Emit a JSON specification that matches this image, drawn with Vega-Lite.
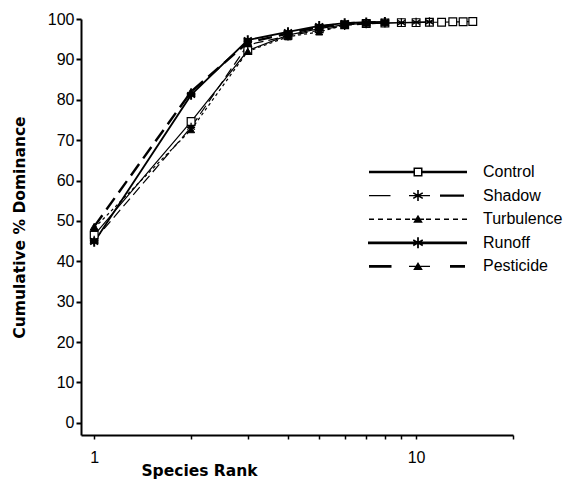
{
  "$schema": "https://vega.github.io/schema/vega-lite/v6.json",
  "padding": {"left": 12, "top": 11, "right": 0, "bottom": 0},
  "width": 432,
  "height": 416,
  "background": "white",
  "config": {
    "view": {"stroke": null},
    "font": "Liberation Sans",
    "axis": {
      "grid": false,
      "domainColor": "black",
      "domainWidth": 2,
      "tickColor": "black",
      "labelColor": "black",
      "labelFont": "Liberation Sans",
      "labelFontSize": 16,
      "titleColor": "black",
      "titleFont": "DejaVu Sans",
      "titleFontWeight": "bold",
      "titleFontSize": 15.5
    }
  },
  "data": {
    "values": [
      {"treatment": "Control", "rank": 1, "pct": 46.5},
      {"treatment": "Control", "rank": 2, "pct": 74.6},
      {"treatment": "Control", "rank": 3, "pct": 92.2},
      {"treatment": "Control", "rank": 4, "pct": 96.0},
      {"treatment": "Control", "rank": 5, "pct": 97.6},
      {"treatment": "Control", "rank": 6, "pct": 98.6},
      {"treatment": "Control", "rank": 7, "pct": 98.9},
      {"treatment": "Control", "rank": 8, "pct": 99.0},
      {"treatment": "Control", "rank": 9, "pct": 99.1},
      {"treatment": "Control", "rank": 10, "pct": 99.1},
      {"treatment": "Control", "rank": 11, "pct": 99.2},
      {"treatment": "Control", "rank": 12, "pct": 99.2},
      {"treatment": "Control", "rank": 13, "pct": 99.3},
      {"treatment": "Control", "rank": 14, "pct": 99.3},
      {"treatment": "Control", "rank": 15, "pct": 99.4},
      {"treatment": "Shadow", "rank": 1, "pct": 45.2},
      {"treatment": "Shadow", "rank": 2, "pct": 73.2},
      {"treatment": "Shadow", "rank": 3, "pct": 93.6},
      {"treatment": "Shadow", "rank": 4, "pct": 95.8},
      {"treatment": "Shadow", "rank": 5, "pct": 97.2},
      {"treatment": "Shadow", "rank": 6, "pct": 98.4},
      {"treatment": "Shadow", "rank": 7, "pct": 98.8},
      {"treatment": "Shadow", "rank": 8, "pct": 99.0},
      {"treatment": "Shadow", "rank": 9, "pct": 99.1},
      {"treatment": "Shadow", "rank": 10, "pct": 99.2},
      {"treatment": "Shadow", "rank": 11, "pct": 99.3},
      {"treatment": "Turbulence", "rank": 1, "pct": 48.2},
      {"treatment": "Turbulence", "rank": 2, "pct": 72.6},
      {"treatment": "Turbulence", "rank": 3, "pct": 92.0},
      {"treatment": "Turbulence", "rank": 4, "pct": 95.6},
      {"treatment": "Turbulence", "rank": 5, "pct": 96.8},
      {"treatment": "Turbulence", "rank": 6, "pct": 98.5},
      {"treatment": "Turbulence", "rank": 7, "pct": 99.0},
      {"treatment": "Turbulence", "rank": 8, "pct": 99.2},
      {"treatment": "Runoff", "rank": 1, "pct": 44.8},
      {"treatment": "Runoff", "rank": 2, "pct": 81.2},
      {"treatment": "Runoff", "rank": 3, "pct": 94.8},
      {"treatment": "Runoff", "rank": 4, "pct": 96.8},
      {"treatment": "Runoff", "rank": 5, "pct": 98.3},
      {"treatment": "Runoff", "rank": 6, "pct": 99.0},
      {"treatment": "Runoff", "rank": 7, "pct": 99.2},
      {"treatment": "Runoff", "rank": 8, "pct": 99.3},
      {"treatment": "Pesticide", "rank": 1, "pct": 48.6},
      {"treatment": "Pesticide", "rank": 2, "pct": 82.0},
      {"treatment": "Pesticide", "rank": 3, "pct": 94.2},
      {"treatment": "Pesticide", "rank": 4, "pct": 96.4},
      {"treatment": "Pesticide", "rank": 5, "pct": 98.0},
      {"treatment": "Pesticide", "rank": 6, "pct": 98.9},
      {"treatment": "Pesticide", "rank": 7, "pct": 99.1},
      {"treatment": "Pesticide", "rank": 8, "pct": 99.3}
    ]
  },
  "encoding": {
    "x": {
      "field": "rank",
      "type": "quantitative",
      "scale": {"type": "log", "domain": [0.91, 20], "nice": false},
      "axis": {
        "title": "Species Rank",
        "titleX": 118,
        "titleY": 40,
        "titleAlign": "center",
        "titleBaseline": "alphabetic",
        "values": [1, 2, 3, 4, 5, 6, 7, 8, 9, 10, 20],
        "labelExpr": "(datum.value == 1 || datum.value == 10) ? format(datum.value, 'd') : ''",
        "labelOverlap": false,
        "labelBound": false,
        "labelFlush": false,
        "tickSize": 4,
        "tickWidth": 1.5,
        "labelPadding": 10,
        "encode": {"ticks": {"y": {"value": -4}}}
      }
    },
    "y": {
      "field": "pct",
      "type": "quantitative",
      "scale": {"domain": [-3, 100], "nice": false, "zero": false},
      "axis": {
        "title": "Cumulative % Dominance",
        "titleAngle": -90,
        "titlePadding": 20,
        "values": [0, 10, 20, 30, 40, 50, 60, 70, 80, 90, 100],
        "labelOverlap": false,
        "labelBound": false,
        "labelFlush": false,
        "tickSize": 5,
        "tickWidth": 2,
        "encode": {"ticks": {"x": {"value": 8}}}
      }
    }
  },
  "layer": [
    {
      "transform": [{"filter": "datum.treatment === 'Control'"}],
      "mark": {"type": "line", "color": "black", "strokeWidth": 1.2}
    },
    {
      "transform": [{"filter": "datum.treatment === 'Shadow'"}],
      "mark": {"type": "line", "color": "black", "strokeWidth": 1.2, "strokeDash": [10, 5]}
    },
    {
      "transform": [{"filter": "datum.treatment === 'Turbulence'"}],
      "mark": {"type": "line", "color": "black", "strokeWidth": 1.2, "strokeDash": [3, 3]}
    },
    {
      "transform": [{"filter": "datum.treatment === 'Runoff'"}],
      "mark": {"type": "line", "color": "black", "strokeWidth": 1.8}
    },
    {
      "transform": [{"filter": "datum.treatment === 'Pesticide'"}],
      "mark": {"type": "line", "color": "black", "strokeWidth": 2.4, "strokeDash": [14, 7]}
    },
    {
      "transform": [{"filter": "datum.treatment === 'Control'"}],
      "mark": {"type": "point", "shape": "square", "filled": true, "fill": "white", "stroke": "black", "strokeWidth": 1.2, "size": 60, "opacity": 1}
    },
    {
      "transform": [{"filter": "datum.treatment === 'Shadow'"}],
      "mark": {"type": "point", "shape": "M0,-1V1M-0.87,-0.5L0.87,0.5M-0.87,0.5L0.87,-0.5M-0.9,0H0.9", "filled": false, "stroke": "black", "strokeWidth": 1.3, "size": 80, "opacity": 1}
    },
    {
      "transform": [{"filter": "datum.treatment === 'Turbulence'"}],
      "mark": {"type": "point", "shape": "triangle-up", "filled": true, "fill": "black", "stroke": "black", "strokeWidth": 1, "size": 50, "opacity": 1}
    },
    {
      "transform": [{"filter": "datum.treatment === 'Runoff'"}],
      "mark": {"type": "point", "shape": "M0,-1V1M-0.87,-0.5L0.87,0.5M-0.87,0.5L0.87,-0.5M-0.9,0H0.9", "filled": false, "stroke": "black", "strokeWidth": 2, "size": 90, "opacity": 1}
    },
    {
      "transform": [{"filter": "datum.treatment === 'Pesticide'"}],
      "mark": {"type": "point", "shape": "triangle-up", "filled": true, "fill": "black", "stroke": "black", "strokeWidth": 1, "size": 60, "opacity": 1}
    },
    {
      "transform": [{"filter": "datum.rank < 0"}],
      "mark": {"type": "point", "filled": true, "color": "black", "strokeWidth": 0, "opacity": 1},
      "encoding": {
        "shape": {
          "field": "treatment",
          "type": "nominal",
          "scale": {
            "domain": ["Control", "Shadow", "Turbulence", "Runoff", "Pesticide"],
            "range": [
              "M-4.9,-0.12H-0.45V0.12H-4.9Z M0.45,-0.12H4.9V0.12H0.45Z M-0.45,-0.45H0.45V0.45H-0.45Z M-0.3,-0.3V0.3H0.3V-0.3Z",
              "M-4.9,-0.07H-2.75V0.07H-4.9Z M-0.9,-0.07H1.2V0.07H-0.9Z M2.2,-0.12H4.6V0.12H2.2Z M-0.08,-0.55H0.08V0.55H-0.08Z M-0.436,-0.344L0.516,0.206L0.436,0.344L-0.516,-0.206Z M-0.516,0.206L0.436,-0.344L0.516,-0.206L-0.436,0.344Z",
              "M-4.9,-0.07H-4.4V0.07H-4.9Z M-4,-0.07H-3.5V0.07H-4Z M-3.1,-0.07H-2.6V0.07H-3.1Z M-2.2,-0.07H-1.7V0.07H-2.2Z M-1.3,-0.07H-0.8V0.07H-1.3Z M-0.6,-0.07H0.6V0.07H-0.6Z M0.8,-0.07H1.3V0.07H0.8Z M1.7,-0.07H2.2V0.07H1.7Z M2.6,-0.07H3.1V0.07H2.6Z M3.5,-0.07H4V0.07H3.5Z M4.4,-0.07H4.9V0.07H4.4Z M0,-0.45L0.48,0.35L-0.48,0.35Z",
              "M-5,-0.14H4.9V0.14H-5Z M-0.09,-0.55H0.09V0.55H-0.09Z M-0.436,-0.344L0.516,0.206L0.436,0.344L-0.516,-0.206Z M-0.516,0.206L0.436,-0.344L0.516,-0.206L-0.436,0.344Z",
              "M-4.9,-0.14H-2.65V0.14H-4.9Z M-0.9,-0.07H1.2V0.07H-0.9Z M3.2,-0.14H4.7V0.14H3.2Z M0,-0.45L0.48,0.35L-0.48,0.35Z"
            ]
          },
          "legend": {
            "title": null,
            "orient": "none",
            "legendX": 327,
            "legendY": 143,
            "padding": 0,
            "rowPadding": 5.6,
            "labelOffset": 55,
            "labelFontSize": 16,
            "labelColor": "black",
            "symbolSize": 400,
            "symbolStrokeWidth": 0,
            "symbolFillColor": "black",
            "symbolOpacity": 1
          }
        }
      }
    }
  ]
}
